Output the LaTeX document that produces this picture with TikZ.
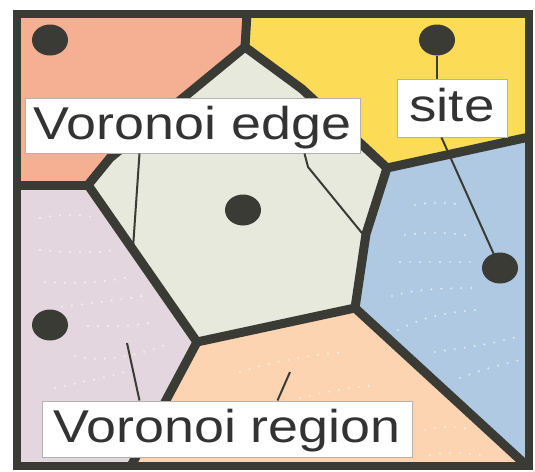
\documentclass[tikz,border=0pt]{standalone}
\usepackage{fontspec}
\setmainfont{Liberation Sans}
\usetikzlibrary{calc,shapes.geometric}
\definecolor{cOrange}{HTML}{F5AF92}
\definecolor{cYellow}{HTML}{FCDB57}
\definecolor{cGreen}{HTML}{E6E9DB}
\definecolor{cLilac}{HTML}{E4D6DF}
\definecolor{cBlue}{HTML}{AFC9E2}
\definecolor{cPeach}{HTML}{FCD4B1}
\definecolor{cDark}{HTML}{3B3B35}
\definecolor{cText}{HTML}{333333}
\tikzset{
  edgeline/.style={draw=cDark, line width=9pt, line join=round, line cap=butt},
  framebox/.style={draw=cDark, line width=8pt, line join=miter},
  sitedot/.style={ellipse, fill=cDark, inner sep=0pt, minimum width=36pt, minimum height=31pt},
  labelbox/.style={draw=gray!60, line width=1pt, fill=white, inner sep=0pt,
    text=cText, text height=33pt, text depth=6pt,
    font=\fontsize{46}{50}\selectfont},
  pointer/.style={draw=cDark, line width=2pt},
  speckle/.style={draw=white, opacity=0.6, line width=2.3pt, line cap=round, dash pattern=on 0pt off 10pt},
}
\begin{document}
\begin{tikzpicture}[x=1pt,y=-1pt]
\useasboundingbox (0,0) rectangle (535,471);
% frame corners
\coordinate (TL) at (17,13.5);
\coordinate (TR) at (529,13.5);
\coordinate (BR) at (529,466);
\coordinate (BL) at (17,466);
% Voronoi vertices
\coordinate (A) at (247,13.5);
\coordinate (B) at (245,47);
\coordinate (Gm) at (110,158);
\coordinate (G) at (88,185);
\coordinate (H) at (17,185);
\coordinate (Cm) at (302,89);
\coordinate (C) at (387,168);
\coordinate (D) at (529,137);
\coordinate (Em) at (366,234);
\coordinate (E) at (355,308);
\coordinate (F) at (197,342);
\coordinate (I) at (131,466);
\coordinate (J) at (527,466);
% regions
\fill[cOrange] (TL) -- (A) -- (B) -- (Gm) -- (G) -- (H) -- cycle;
\fill[cYellow] (A) -- (TR) -- (D) -- (C) -- (Cm) -- (B) -- cycle;
\fill[cGreen] (B) -- (Cm) -- (C) -- (Em) -- (E) -- (F) -- (G) -- (Gm) -- cycle;
\fill[cBlue] (C) -- (D) -- (BR) -- (J) -- (E) -- (Em) -- cycle;
\fill[cPeach] (F) -- (E) -- (J) -- (I) -- cycle;
\fill[cLilac] (H) -- (G) -- (F) -- (I) -- (BL) -- cycle;
% speckle texture
\draw[speckle] (40,218) .. controls (60,214) and (80,214) .. (98,218);
\draw[speckle] (40,250) .. controls (70,253) and (95,253) .. (118,250);
\draw[speckle] (45,282) .. controls (80,284) and (110,282) .. (132,276);
\draw[speckle] (62,307) .. controls (90,303) and (120,300) .. (142,296);
\draw[speckle] (88,326) .. controls (110,327) and (135,326) .. (155,322);
\draw[speckle] (75,356) .. controls (100,362) and (130,358) .. (165,345);
\draw[speckle] (55,388) .. controls (80,382) and (105,378) .. (125,372);
\draw[speckle] (415,205) .. controls (430,202) and (448,202) .. (462,205);
\draw[speckle] (405,235) .. controls (425,232) and (450,232) .. (470,236);
\draw[speckle] (400,262) .. controls (425,262) and (450,262) .. (478,262);
\draw[speckle] (392,296) .. controls (410,290) and (440,288) .. (472,288);
\draw[speckle] (398,330) .. controls (420,318) and (445,312) .. (478,310);
\draw[speckle] (435,352) .. controls (460,348) and (490,345) .. (520,336);
\draw[speckle] (460,378) .. controls (480,370) and (500,365) .. (520,360);
\draw[speckle] (240,372) .. controls (270,362) and (305,356) .. (342,352);
\draw[speckle] (300,398) .. controls (325,392) and (345,388) .. (370,386);
\draw[speckle] (425,430) .. controls (440,426) and (455,426) .. (472,430);
\draw[speckle] (430,455) .. controls (445,452) and (460,452) .. (480,455);
% edges
\draw[edgeline] (A) -- (B);
\draw[edgeline] (B) -- (Gm) -- (G);
\draw[edgeline] (B) -- (Cm) -- (C);
\draw[edgeline] (C) -- (D);
\draw[edgeline] (C) -- (Em) -- (E);
\draw[edgeline] (E) -- (F);
\draw[edgeline] (F) -- (G);
\draw[edgeline] (G) -- (H);
\draw[edgeline] (F) -- (I);
\draw[edgeline] (E) -- (J);
% joints at inner vertices
\foreach \v in {B,C,E,F,G} \fill[cDark] (\v) circle (4.5pt);
\draw[framebox] (TL) rectangle (BR);
% sites
\node[sitedot] (s1) at (50,40) {};
\node[sitedot] (s2) at (437,40) {};
\node[sitedot] (s3) at (243,210) {};
\node[sitedot] (s4) at (50,325) {};
\node[sitedot] (s5) at (500,268) {};
% labels
\node[labelbox, minimum width=335pt, minimum height=55pt] (edgelbl) at (192.5,125.5) {\scalebox{1.17}[1]{Voronoi edge}};
\node[labelbox, minimum width=110pt, minimum height=58pt] (sitelbl) at (452,108) {\scalebox{1.19}[1]{site}};
\node[labelbox, minimum width=370pt, minimum height=56pt] (reglbl) at (227,429) {\scalebox{1.17}[1]{Voronoi region}};
% pointers
\coordinate (e1) at (133,248);
\coordinate (e2k) at (308,167);
\coordinate (e2) at (366,238);
\coordinate (r1) at (127,343);
\coordinate (r2) at (290,372);
\draw[pointer] ($(edgelbl.south west)+(115,0)$) -- (e1);
\draw[pointer] ($(edgelbl.south west)+(280,0)$) -- (e2k) -- (e2);
\draw[pointer] (s2.south) -- (s2.south |- sitelbl.north);
\draw[pointer] ($(sitelbl.south west)+(45,0)$) -- (s5.center);
\draw[pointer] ($(reglbl.north west)+(98,0)$) -- (r1);
\draw[pointer] ($(reglbl.north west)+(236,0)$) -- (r2);
\end{tikzpicture}
\end{document}
